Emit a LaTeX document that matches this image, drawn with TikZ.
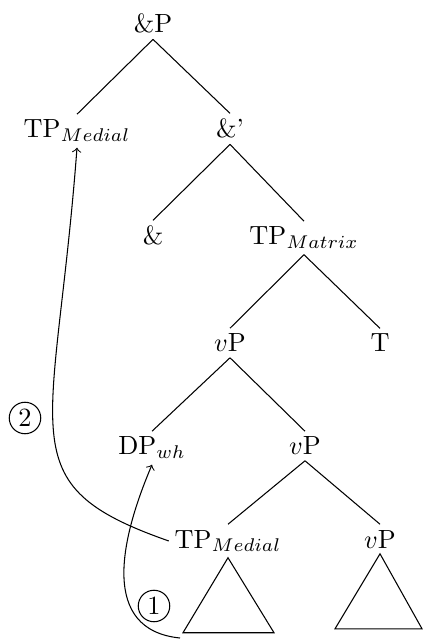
\documentclass[tikz,border=0pt]{standalone}
\usetikzlibrary{positioning}

\begin{document}
\begin{tikzpicture}[x=0.38pt,y=-0.38pt,thin,
    cat/.style={anchor=base,inner sep=2pt},
    stepnum/.style={circle,draw,inner sep=1.3pt}]

    \useasboundingbox (0,0) rectangle (422,640);

    % --------------------------------------------------------- %
    % ------------- top of the tree
    % --------------------------------------------------------- %
    \node[cat] (andP) at (153,33) {\&P};
    \node[cat] (tpMedTop) at (77,138) {TP$_{Medial}$};
    \node[cat] (andBar) at (230,138) {\&'};
    \draw (andP.south) -- (tpMedTop.north);
    \draw (andP.south) -- (andBar.north);

    \node[cat] (andHead) at (153,245) {\&};
    \node[cat] (tpMat) at (304,245) {TP$_{Matrix}$};
    \draw (andBar.south) -- (andHead.north);
    \draw (andBar.south) -- (tpMat.north);

    % --------------------------------------------------------- %
    % ------------- matrix clause
    % --------------------------------------------------------- %
    \node[cat] (vpHigh) at (230,352) {$v$P};
    \node[cat] (tHead) at (380,352) {T};
    \draw (tpMat.south) -- (vpHigh.north);
    \draw (tpMat.south) -- (tHead.north);

    \node[cat] (dpWh) at (152,455) {DP$_{wh}$};
    \node[cat] (vpMid) at (305,455) {$v$P};
    \draw (vpHigh.south) -- (dpWh.north);
    \draw (vpHigh.south) -- (vpMid.north);

    \node[cat] (tpMedLow) at (228,548) {TP$_{Medial}$};
    \node[cat] (vpLow) at (380,548) {$v$P};
    \draw (vpMid.south) -- (tpMedLow.north);
    \draw (vpMid.south) -- (vpLow.north);

    % ------------- roofs
    \draw (tpMedLow.south) -- ++(-45,75) -- ++(91,0) -- cycle;
    \draw (vpLow.south) -- ++(-45,75) -- ++(87,0) -- cycle;

    % --------------------------------------------------------- %
    % ------------- movement arrows
    % --------------------------------------------------------- %
    \coordinate (trace) at (180,638);
    \draw[->] (trace) .. controls (100,630) and (120,540) .. (dpWh.south);
    \node[stepnum] (one) at (154,606) {1};

    \draw[->] (tpMedLow.west) .. controls (6,484) and (55,440) .. (tpMedTop.south);
    \node[stepnum] (two) at (25,418) {2};

\end{tikzpicture}
\end{document}
